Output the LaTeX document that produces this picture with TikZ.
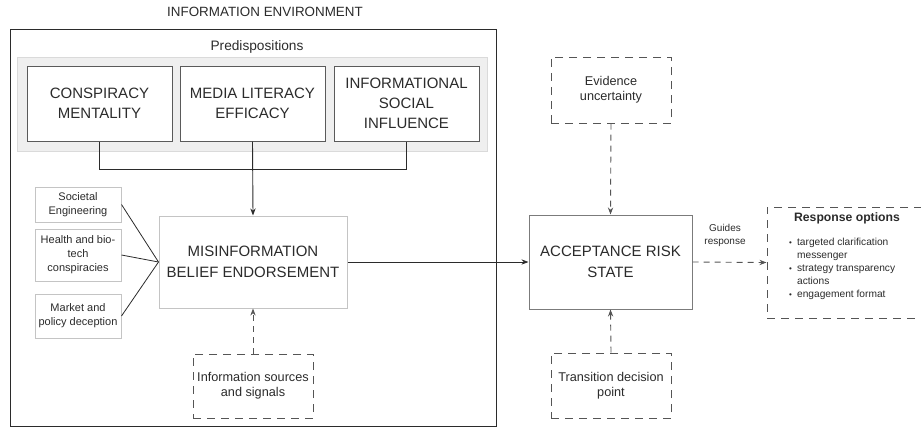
\documentclass[tikz,border=0pt]{standalone}
\usepackage{fontspec}
\setmainfont{Liberation Sans}
\usepackage{xcolor}
\usetikzlibrary{
  arrows.meta,
  positioning,
  calc
}
\definecolor{ink}{HTML}{2B2B2B}
\definecolor{edge}{HTML}{5A5A5A}
\definecolor{soft}{HTML}{C4C4C4}
\definecolor{panel}{HTML}{EFEFEF}
\definecolor{panelline}{HTML}{DADADA}
\definecolor{dashgray}{HTML}{555555}

\begin{document}
\begin{tikzpicture}[
        x=1pt, y=-1pt,
        >=Stealth,
        every node/.style={text=ink, align=center, inner sep=2pt},
        trait/.style={draw=edge, line width=1pt, fill=white,
                      minimum width=145, minimum height=75,
                      font=\fontsize{15}{20}\selectfont},
        state/.style={draw=#1, line width=1pt, fill=white,
                      font=\fontsize{15}{21}\selectfont},
        topic/.style={draw=soft, line width=1pt, fill=white, minimum width=86,
                      font=\fontsize{11}{14}\selectfont},
        factor/.style={draw=dashgray, line width=1pt, dash pattern=on 8pt off 6pt,
                       minimum width=120, font=\fontsize{12.7}{15}\selectfont},
        link/.style={->, ink, line width=0.9pt},
        dlink/.style={->, dashgray, line width=0.9pt, dash pattern=on 6pt off 5pt}
    ]
        \useasboundingbox (0,0) rectangle (921,432);
        % information environment frame and predisposition panel
        \node[font=\fontsize{13.4}{15}\selectfont] (envlabel) at (265,12) {INFORMATION ENVIRONMENT};
        \draw[ink, line width=1pt] (10,29) rectangle (496,426);
        \draw[panelline, fill=panel, line width=1pt] (17,57) rectangle (487,151);
        \node[font=\fontsize{13.7}{15}\selectfont] (predlabel) at (257,47) {Predispositions};
        \node[trait] (cm) at (99.5,103.5) {CONSPIRACY\\MENTALITY};
        \node[trait] (ml) at (252.5,103.5) {MEDIA LITERACY\\EFFICACY};
        \node[trait] (isi) at (406.5,103.5) {INFORMATIONAL\\SOCIAL\\INFLUENCE};
        \coordinate (join) at (254,169);
        \draw[ink, line width=0.9pt] (cm.south) -- (cm.south |- join) -- (isi.south |- join) -- (isi.south);
        % belief node and its topics
        \node[state=soft, minimum width=188, minimum height=92] (mbe) at (253,262)
            {MISINFORMATION\\BELIEF ENDORSEMENT};
        \draw[link] (ml.south) -- (mbe.north);
        \node[topic, minimum height=35] (se) at (78,204.5) {Societal\\Engineering};
        \node[topic, minimum height=52] (hb) at (78,255) {Health and bio-\\tech\\conspiracies};
        \node[topic, minimum height=44] (mp) at (78,316) {Market and\\policy deception};
        \foreach \t in {se,hb,mp}
            \draw[ink, line width=0.8pt] (\t.east) -- (mbe.west);
        \node[factor, minimum height=64] (iss) at (253,386) {Information sources\\and signals};
        \draw[dlink] (iss.north) -- (mbe.south);
        % acceptance risk and response
        \node[state=edge!80, minimum width=163, minimum height=94] (ars) at (610.5,262)
            {ACCEPTANCE RISK\\STATE};
        \draw[link] (mbe.east) -- (ars.west);
        \node[factor, minimum height=66] (eu) at (611,90) {Evidence\\uncertainty};
        \node[factor, minimum height=65] (tdp) at (611,385.5) {Transition decision\\point};
        \draw[dlink] (eu.south) -- (ars.north);
        \draw[dlink] (tdp.north) -- (ars.south);
        \node[factor, minimum width=162, minimum height=111] (ro) at (848,262.5) {};
        \node[font=\fontsize{12.2}{14}\selectfont\bfseries] (rotitle) at (847,218) {Response options};
        \node[anchor=north west, align=left, inner sep=0pt,
              font=\fontsize{10.2}{13}\selectfont] (rolist) at (789,238)
            {{\fontsize{8}{13}\selectfont\textbullet}\enspace targeted clarification\\
             \phantom{{\fontsize{8}{13}\selectfont\textbullet}\enspace}messenger\\
             {\fontsize{8}{13}\selectfont\textbullet}\enspace strategy transparency\\
             \phantom{{\fontsize{8}{13}\selectfont\textbullet}\enspace}actions\\
             {\fontsize{8}{13}\selectfont\textbullet}\enspace engagement format};
        \draw[dlink] (ars.east) -- (ro.west);
        \node[font=\fontsize{10}{13}\selectfont] (guides) at (725,235) {Guides\\response};
    \end{tikzpicture}
\end{document}
